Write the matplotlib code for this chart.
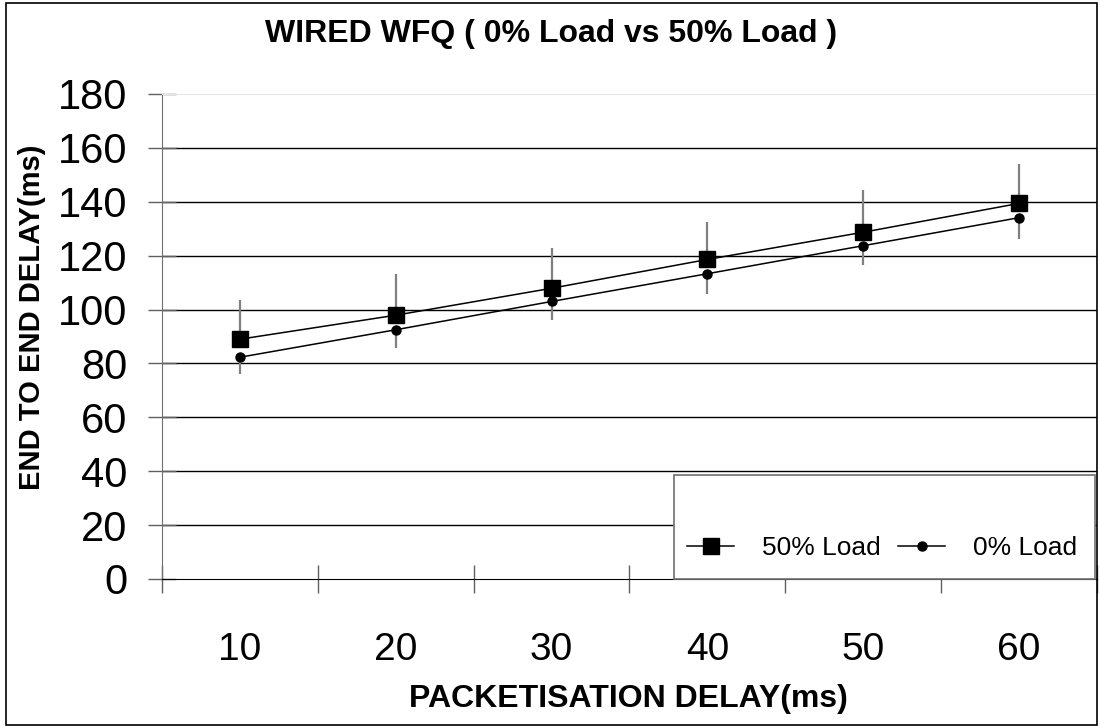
import matplotlib
matplotlib.use("Agg")
import matplotlib.pyplot as plt
from matplotlib.patches import Rectangle
import numpy as np

plt.rcParams['font.family'] = ['Liberation Sans', 'DejaVu Sans']

categories = ["10", "20", "30", "40", "50", "60"]
load50 = [89.0, 97.9, 107.9, 118.6, 128.7, 139.4]
load50_err_up = [14.7, 15.4, 15.1, 13.8, 15.7, 14.6]
load0 = [82.3, 92.5, 103.0, 113.3, 123.7, 134.1]
load0_err_down = [6.1, 6.7, 6.8, 7.5, 7.2, 8.0]
yticks = [0, 20, 40, 60, 80, 100, 120, 140, 160, 180]

W, H = 1100, 727
fig = plt.figure(figsize=(W / 100, H / 100), dpi=100)
ax = fig.add_axes([162 / W, 1 - 579 / H, (1097 - 162) / W, (579 - 94) / H])

x = np.arange(len(categories))

# gridlines
for v in yticks[1:-1]:
    ax.axhline(v, color='black', lw=1.0, zorder=1)

ax.errorbar(x, load50, yerr=[np.zeros(len(x)), load50_err_up], fmt='none',
            ecolor='#808080', elinewidth=1.6, capsize=0, zorder=2)
ax.errorbar(x, load0, yerr=[load0_err_down, np.zeros(len(x))], fmt='none',
            ecolor='#808080', elinewidth=1.6, capsize=0, zorder=2)
l50, = ax.plot(x, load50, color='black', lw=1.1, marker='s', markersize=11.5,
               markerfacecolor='black', markeredgecolor='black', zorder=3, label='50% Load')
l0, = ax.plot(x, load0, color='black', lw=1.1, marker='o', markersize=6.5,
              markerfacecolor='black', markeredgecolor='black', zorder=3, label='0% Load')

ax.set_xlim(-0.5, len(categories) - 0.5)
ax.set_ylim(0, 180)
ax.set_yticks(yticks)
ax.set_yticklabels([str(v) for v in yticks])
ax.set_xticks(np.arange(-0.5, len(categories), 1.0))
ax.set_xticklabels([])
ax.set_xticks(x, minor=True)
ax.set_xticklabels(categories, minor=True)

ax.tick_params(axis='y', which='major', direction='inout', length=20, width=1,
               color='#606060', labelsize=30, pad=15)
ax.tick_params(axis='x', which='major', direction='inout', length=20, width=1,
               color='#606060')
ax.tick_params(axis='x', which='minor', length=0, labelsize=28, pad=38)

ax.spines['left'].set_color('#707070')
ax.spines['bottom'].set_color('black')
ax.spines['top'].set_color('#e6e6e6')
ax.spines['right'].set_visible(False)

fig.text(628 / W, 1 - 699 / H, 'PACKETISATION DELAY(ms)', fontsize=23, fontweight='bold',
         ha='center', va='center')
fig.text(32 / W, 1 - 317 / H, 'END TO END DELAY(ms)', fontsize=21, fontweight='bold',
         ha='center', va='center', rotation=90)
fig.text(551 / W, 1 - 34 / H, 'WIRED WFQ ( 0% Load vs 50% Load )', fontsize=23,
         fontweight='bold', ha='center', va='center')

# legend box
fig.patches.append(Rectangle((674 / W, 1 - 579 / H), (1095 - 674) / W, (579 - 475) / H,
                             transform=fig.transFigure, facecolor='white',
                             edgecolor='#707070', lw=1.2, zorder=5))
leg = fig.legend(handles=[l50, l0], loc='center', bbox_to_anchor=(882 / W, 1 - 548 / H),
                 ncol=2, frameon=False, fontsize=19, handlelength=1.8, handletextpad=1.05,
                 columnspacing=0.65)
leg.set_zorder(6)

# figure border
fig.patches.append(Rectangle((6 / W, 2 / H), (1097 - 6) / W, (724 - 2) / H,
                             transform=fig.transFigure, facecolor='none',
                             edgecolor='black', lw=1.2, zorder=7))

fig.savefig('out.png', dpi=100)
